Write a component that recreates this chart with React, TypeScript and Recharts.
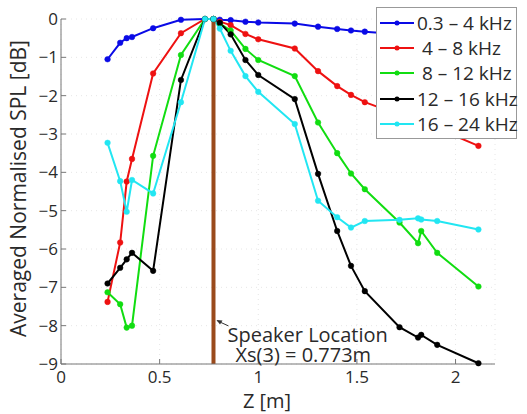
import { LineChart, Line, XAxis, YAxis, CartesianGrid, Legend, ReferenceLine, ReferenceDot, Label } from 'recharts';

// measurement positions along the array [m]
const zPos = [0.236, 0.3, 0.333, 0.36, 0.467, 0.608, 0.73, 0.773, 0.805, 0.86, 0.935, 1.0, 1.185, 1.303, 1.4, 1.47, 1.54, 1.716, 1.81, 1.826, 1.907, 2.116];

// averaged normalised SPL per band [dB]
const band1 = [-1.05, -0.62, -0.5, -0.47, -0.24, -0.02, 0, 0, -0.02, -0.03, -0.07, -0.09, -0.12, -0.2, -0.26, -0.3, -0.33, -0.4, -0.44, -0.45, -0.48, -0.56];
const band2 = [-7.38, -5.83, -4.24, -3.65, -1.42, -0.37, 0, 0, -0.07, -0.16, -0.39, -0.53, -0.77, -1.36, -1.75, -1.98, -2.17, -2.5, -2.65, -2.68, -2.85, -3.31];
const band3 = [-7.13, -7.44, -8.05, -8.0, -3.57, -0.94, 0, 0, -0.12, -0.3, -0.78, -1.07, -1.49, -2.7, -3.5, -4.03, -4.44, -5.31, -5.85, -5.53, -6.1, -6.98];
const band4 = [-6.9, -6.49, -6.27, -6.1, -6.57, -1.59, 0, 0, -0.1, -0.4, -1.07, -1.46, -2.09, -4.04, -5.53, -6.44, -7.1, -8.04, -8.31, -8.24, -8.5, -8.98];
const band5 = [-3.23, -4.23, -5.03, -4.2, -4.55, -2.17, 0, 0, -0.25, -0.83, -1.49, -1.9, -2.74, -4.74, -5.17, -5.44, -5.27, -5.24, -5.2, -5.23, -5.27, -5.49];

const bandNames = ['0.3 – 4 kHz', ' 4 – 8 kHz', ' 8 – 12 kHz', '12 – 16 kHz', '16 – 24 kHz'];
const bandColors = ['#0a0ae6', '#ee1111', '#11dd11', '#000000', '#22e6f2'];

const xTicks = [0, 0.5, 1, 1.5, 2];
const yTicks = [0, -1, -2, -3, -4, -5, -6, -7, -8, -9];

const speakerZ = 0.773;
const arrowTipY = -7.85;

const data = zPos.map((z, i) => ({
  z,
  b1: band1[i],
  b2: band2[i],
  b3: band3[i],
  b4: band4[i],
  b5: band5[i],
}));

const FONT = '"Open Sans", sans-serif';
const TEXT = '#2a2a2a';

const LegendBox = () => (
  <div
    style={{
      background: '#fff',
      border: '1px solid #999',
      width: 139,
      height: 128,
      paddingTop: 2,
      boxSizing: 'content-box',
      fontFamily: FONT,
    }}
  >
    {bandNames.map((name, i) => (
      <div key={name} style={{ display: 'flex', alignItems: 'center', height: 25.4 }}>
        <svg width={40} height={10} style={{ flex: 'none' }}>
          <line x1={3} y1={5} x2={37} y2={5} stroke={bandColors[i]} strokeWidth={2} />
          <circle cx={20} cy={5} r={2.5} fill={bandColors[i]} />
        </svg>
        <span style={{ fontSize: 19, color: TEXT, whiteSpace: 'pre', lineHeight: '20px' }}>{name}</span>
      </div>
    ))}
  </div>
);

const YLabel = ({ viewBox }: any) => {
  const cx = viewBox.x + 18;
  const cy = viewBox.y + viewBox.height / 2 - 3;
  return (
    <text
      x={cx}
      y={cy}
      transform={`rotate(-90 ${cx} ${cy})`}
      textAnchor="middle"
      dominantBaseline="central"
      fontSize={21}
      fill={TEXT}
      fontFamily={FONT}
    >
      Averaged Normalised SPL [dB]
    </text>
  );
};

const SpeakerNote = ({ cx, cy }: any) => {
  const tx = cx + 3;
  return (
    <g fontFamily={FONT} fill={TEXT}>
      <line x1={tx + 12} y1={cy + 6} x2={tx + 1} y2={cy + 1} stroke="#333" strokeWidth={1} />
      <path d={`M ${tx} ${cy} l 6 0.5 l -2.5 4 z`} fill="#333" />
      <text x={tx + 11} y={cy + 15} fontSize={20} dominantBaseline="central">
        Speaker Location
      </text>
      <text x={tx + 19} y={cy + 35} fontSize={20} dominantBaseline="central">
        Xs(3) = 0.773m
      </text>
    </g>
  );
};

export default function App() {
  const series = [band1, band2, band3, band4, band5];
  return (
    <div style={{ position: 'absolute', left: 0, top: 0, width: 527, height: 414, background: '#fff' }}>
      <LineChart width={527} height={414} data={data} margin={{ top: 19, right: 32, bottom: 0, left: 0 }}>
        <CartesianGrid stroke="#e6e6e6" strokeDasharray="1 4" />
        <XAxis
          dataKey="z"
          type="number"
          domain={[0, 2.2]}
          ticks={xTicks}
          height={50}
          tickSize={-5}
          tickMargin={12}
          stroke="#777"
          tick={{ fill: TEXT, fontSize: 17, fontFamily: FONT }}
          tickFormatter={(v: number) => String(v)}
        >
          <Label value="Z [m]" position="insideBottom" offset={6} dx={-11} fontSize={20} fill={TEXT} fontFamily={FONT} />
        </XAxis>
        <YAxis
          type="number"
          domain={[-9, 0]}
          ticks={yTicks}
          width={61}
          tickSize={-5}
          tickMargin={8}
          stroke="#777"
          tick={{ fill: TEXT, fontSize: 17, fontFamily: FONT }}
          tickFormatter={(v: number) => (v < 0 ? `−${Math.abs(v)}` : String(v))}
        >
          <Label content={<YLabel />} />
        </YAxis>
        {series.map((_, i) => (
          <Line
            key={i}
            type="linear"
            dataKey={`b${i + 1}`}
            name={bandNames[i]}
            stroke={bandColors[i]}
            strokeWidth={2}
            dot={{ r: 2.8, fill: bandColors[i], stroke: bandColors[i], strokeWidth: 0.5 }}
            activeDot={false}
            isAnimationActive={false}
          />
        ))}
        <ReferenceLine x={speakerZ} stroke="#9a4a1c" strokeWidth={4} />
        <ReferenceDot x={speakerZ} y={arrowTipY} r={0} ifOverflow="visible" shape={<SpeakerNote />} />
        <Legend
          layout="vertical"
          align="center"
          verticalAlign="middle"
          content={<LegendBox />}
          wrapperStyle={{ position: 'absolute', left: 376, top: 7, width: 141, height: 132 }}
        />
      </LineChart>
    </div>
  );
}
